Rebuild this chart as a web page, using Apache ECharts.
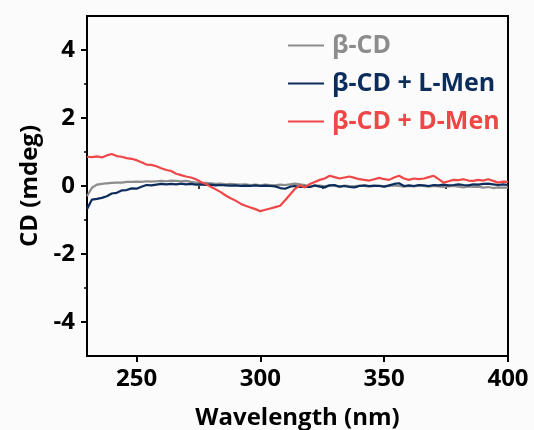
<!DOCTYPE html>
<html>
<head>
<meta charset="utf-8">
<script src="https://cdn.jsdelivr.net/npm/echarts@6/dist/echarts.min.js"></script>
<style>
  html, body { margin: 0; padding: 0; background: #fbfbfb; }
  #chart { width: 534px; height: 430px; }
</style>
</head>
<body>
<div id="chart"></div>
<script>
// wavelength (nm), every 2 nm
const wavelengths = [
  230, 232, 234, 236, 238, 240, 242, 244, 246, 248,
  250, 252, 254, 256, 258, 260, 262, 264, 266, 268,
  270, 272, 274, 276, 278, 280, 282, 284, 286, 288,
  290, 292, 294, 296, 298, 300, 302, 304, 306, 308,
  310, 312, 314, 316, 318, 320, 322, 324, 326, 328,
  330, 332, 334, 336, 338, 340, 342, 344, 346, 348,
  350, 352, 354, 356, 358, 360, 362, 364, 366, 368,
  370, 372, 374, 376, 378, 380, 382, 384, 386, 388,
  390, 392, 394, 396, 398, 400
];

const betaCD = [
  -0.30, -0.05, 0.04, 0.06, 0.08, 0.09, 0.10, 0.10, 0.12, 0.12,
  0.13, 0.12, 0.14, 0.13, 0.14, 0.15, 0.14, 0.16, 0.15, 0.14,
  0.15, 0.12, 0.10, 0.08, 0.09, 0.08, 0.06, 0.07, 0.05, 0.06,
  0.05, 0.04, 0.05, 0.03, 0.04, 0.02, 0.04, 0.03, 0.02, 0.04,
  0.03, 0.05, 0.07, 0.05, 0.03, -0.02, 0.00, 0.01, -0.01, 0.02,
  0.00, -0.02, 0.01, 0.00, -0.01, 0.01, 0.00, -0.02, 0.00, 0.01,
  -0.01, 0.00, 0.02, 0.00, -0.02, 0.00, -0.01, 0.01, 0.00, -0.02,
  0.00, -0.01, -0.03, -0.01, 0.00, -0.02, -0.04, -0.01, -0.03, -0.02,
  -0.05, -0.03, -0.06, -0.04, -0.05, -0.05
];

const betaCDLMen = [
  -0.68, -0.40, -0.38, -0.35, -0.30, -0.22, -0.20, -0.13, -0.12, -0.07,
  -0.08, -0.02, 0.03, 0.02, 0.04, 0.06, 0.05, 0.06, 0.05, 0.07,
  0.05, 0.06, 0.04, 0.05, 0.03, 0.04, 0.02, 0.03, 0.02, 0.01,
  0.02, 0.00, 0.01, 0.00, 0.02, 0.00, 0.01, 0.00, -0.01, -0.06,
  -0.08, -0.02, 0.00, -0.03, -0.02, -0.03, 0.02, -0.02, -0.04, 0.02,
  0.03, -0.02, 0.00, -0.03, -0.04, 0.00, 0.02, 0.00, 0.01, 0.00,
  -0.02, 0.02, 0.06, 0.08, 0.00, 0.02, 0.00, 0.03, 0.02, 0.00,
  0.03, 0.02, 0.04, 0.02, 0.03, 0.05, 0.03, 0.02, 0.05, 0.04,
  0.06, 0.07, 0.05, 0.03, 0.05, 0.03
];

const betaCDDMen = [
  0.86, 0.85, 0.87, 0.84, 0.90, 0.94, 0.88, 0.86, 0.82, 0.80,
  0.76, 0.70, 0.63, 0.62, 0.58, 0.52, 0.47, 0.44, 0.36, 0.32,
  0.28, 0.25, 0.20, 0.12, 0.06, -0.02, -0.10, -0.18, -0.28, -0.36,
  -0.43, -0.52, -0.58, -0.63, -0.68, -0.74, -0.70, -0.66, -0.62, -0.58,
  -0.42, -0.25, -0.08, 0.02, -0.04, 0.06, 0.12, 0.18, 0.22, 0.30,
  0.26, 0.22, 0.25, 0.28, 0.24, 0.20, 0.18, 0.16, 0.20, 0.24,
  0.20, 0.18, 0.25, 0.30, 0.22, 0.18, 0.22, 0.20, 0.22, 0.26,
  0.30, 0.20, 0.10, 0.14, 0.18, 0.17, 0.20, 0.16, 0.15, 0.18,
  0.16, 0.20, 0.15, 0.10, 0.13, 0.12
];

const xLabels = [250, 300, 350, 400];
const xMinorTicks = [275, 325, 375];
const yLabels = [-4, -2, 0, 2, 4];
const yMinorTicks = [-3, -1, 1, 3];

const names = ['β-CD', 'β-CD + L-Men', 'β-CD + D-Men'];
const colors = ['#8c8c8c', '#0c2d5c', '#ef4747'];

function pairs(values) {
  return wavelengths.map((w, i) => [w, values[i]]);
}

const font = '"Open Sans", "Liberation Sans", sans-serif';

const chart = echarts.init(document.getElementById('chart'));

const options = {
  backgroundColor: '#fbfbfb',
  animation: false,
  grid: {
    left: 87, right: 26, top: 16, bottom: 74,
    outerBoundsMode: 'none',
    show: true, borderColor: '#000', borderWidth: 2
  },
  legend: {
    orient: 'vertical',
    left: 283,
    top: 24,
    icon: 'rect',
    itemWidth: 36,
    itemHeight: 2,
    itemGap: 5,
    padding: 5,
    data: names.map((n, i) => ({
      name: n,
      textStyle: { color: colors[i] }
    })),
    textStyle: { fontFamily: font, fontWeight: 'bold', fontSize: 25, lineHeight: 33, padding: [0, 0, 0, 3] }
  },
  xAxis: [
    {
      type: 'value', min: 230, max: 400,
      name: 'Wavelength (nm)', nameLocation: 'middle', nameGap: 50,
      nameTextStyle: { fontFamily: font, fontWeight: 'bold', fontSize: 24, color: '#000' },
      axisLine: { show: true, onZero: false, lineStyle: { color: '#000', width: 2 } },
      axisTick: { show: true, length: 6, lineStyle: { color: '#000', width: 2 }, customValues: xLabels },
      axisLabel: { customValues: xLabels, margin: 11, fontFamily: font, fontWeight: 'bold', fontSize: 24, color: '#000' },
      splitLine: { show: false }
    },
    {
      type: 'value', min: 230, max: 400, position: 'bottom',
      axisLine: { show: false },
      axisTick: { show: true, length: 3, lineStyle: { color: '#000', width: 1.5 }, customValues: xMinorTicks },
      axisLabel: { show: false },
      splitLine: { show: false }
    }
  ],
  yAxis: [
    {
      type: 'value', min: -5, max: 5,
      name: 'CD (mdeg)', nameLocation: 'middle', nameGap: 42,
      nameTextStyle: { fontFamily: font, fontWeight: 'bold', fontSize: 24, color: '#000' },
      axisLine: { show: true, onZero: false, lineStyle: { color: '#000', width: 2 } },
      axisTick: { show: true, length: 6, lineStyle: { color: '#000', width: 2 }, customValues: yLabels },
      axisLabel: { customValues: yLabels, margin: 12, fontFamily: font, fontWeight: 'bold', fontSize: 24, color: '#000' },
      splitLine: { show: false }
    },
    {
      type: 'value', min: -5, max: 5, position: 'left',
      axisLine: { show: false },
      axisTick: { show: true, length: 3, lineStyle: { color: '#000', width: 1.5 }, customValues: yMinorTicks },
      axisLabel: { show: false },
      splitLine: { show: false }
    }
  ],
  series: [betaCD, betaCDLMen, betaCDDMen].map((vals, i) => ({
    name: names[i],
    type: 'line',
    data: pairs(vals),
    symbol: 'none',
    z: i === 1 ? 4 : (i === 2 ? 5 : 3),
    lineStyle: { color: colors[i], width: 2.2 },
    itemStyle: { color: colors[i] }
  }))
};

chart.setOption(options);
</script>
</body>
</html>
